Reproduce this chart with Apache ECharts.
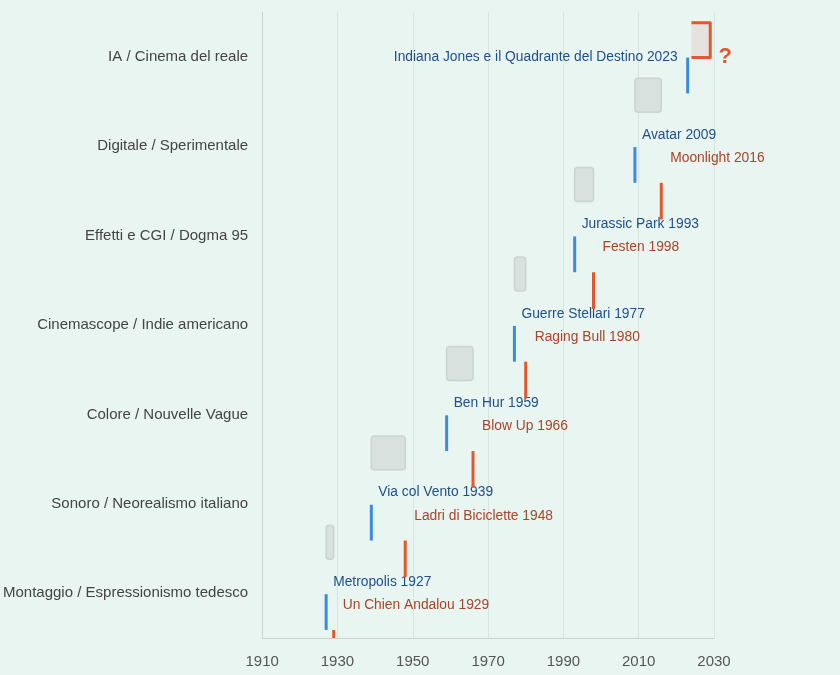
<!DOCTYPE html>
<html>
<head>
<meta charset="utf-8">
<script src="https://cdn.jsdelivr.net/npm/echarts@6/dist/echarts.min.js"></script>
<style>
  html, body { margin: 0; padding: 0; background: #e9f5f1; }
  #main { width: 840px; height: 675px; }
</style>
</head>
<body>
<div id="main"></div>
<script>
// categorie, dal basso verso l'alto
var categorie = ['Montaggio / Espressionismo tedesco', 'Sonoro / Neorealismo italiano', 'Colore / Nouvelle Vague',
  'Cinemascope / Indie americano', 'Effetti e CGI / Dogma 95', 'Digitale / Sperimentale', 'IA / Cinema del reale'];

// primo film (blu) e secondo film (rosso) per ogni epoca
var filmPrimo = ['Metropolis', 'Via col Vento', 'Ben Hur', 'Guerre Stellari', 'Jurassic Park', 'Avatar',
  'Indiana Jones e il Quadrante del Destino'];
var annoPrimo = [1927, 1939, 1959, 1977, 1993, 2009, 2023];
var filmSecondo = ['Un Chien Andalou', 'Ladri di Biciclette', 'Blow Up', 'Raging Bull', 'Festen', 'Moonlight', null];
var annoSecondo = [1929, 1948, 1966, 1980, 1998, 2016, null];

// periodo ignoto per l'ultima epoca
var futuro = [2024, 2029];

var anniAsse = [1910, 2030];

var font = "'Liberation Sans', Arial, sans-serif";
var BLU = '#3b8ce0', ROSSO = '#e0582c';

function clipRect(shape, cs) {
  return echarts.graphic.clipRectByRect(shape, {x: cs.x, y: cs.y, width: cs.width, height: cs.height});
}

var chart = echarts.init(document.getElementById('main'));

var datiBlu = [], datiRossi = [], datiGrigi = [];
for (var i = 0; i < categorie.length; i++) {
  datiBlu.push([annoPrimo[i], i]);
  if (annoSecondo[i] != null) {
    datiRossi.push([annoSecondo[i], i]);
    datiGrigi.push([annoPrimo[i], annoSecondo[i], i]);
  }
}

var option = {
  backgroundColor: '#e9f5f1',
  animation: false,
  grid: { left: 262, right: 126, top: 12, bottom: 37 },
  xAxis: {
    type: 'value',
    min: anniAsse[0],
    max: anniAsse[1],
    interval: 20,
    axisLine: { show: true, lineStyle: { color: '#c9d2cf' } },
    axisTick: { show: false },
    axisLabel: { color: '#555', fontSize: 15, fontFamily: font, margin: 16, formatter: function (v) { return String(v); } },
    splitLine: { show: true, lineStyle: { color: '#d9e3df' } }
  },
  yAxis: {
    type: 'category',
    data: categorie,
    axisLine: { show: true, lineStyle: { color: '#c9d2cf' } },
    axisTick: { show: false },
    axisLabel: { color: '#444', fontSize: 15, fontFamily: font, margin: 14 },
    splitLine: { show: false }
  },
  series: [{
    // transizioni grigie
    type: 'custom',
    data: datiGrigi,
    renderItem: function (params, api) {
      var a = api.coord([api.value(0), api.value(2)]);
      var b = api.coord([api.value(1), api.value(2)]);
      var band = api.size([0, 1])[1];
      var shape = clipRect({ x: a[0], y: a[1] - 0.76 * band, width: b[0] - a[0], height: 0.38 * band }, params.coordSys);
      if (!shape) return;
      return {
        type: 'rect',
        shape: { x: shape.x, y: shape.y, width: shape.width, height: shape.height, r: 3 },
        style: { fill: '#d8e1de', stroke: '#cbd4d1', lineWidth: 1.5 }
      };
    }
  }, {
    // primo film
    type: 'custom',
    data: datiBlu,
    renderItem: function (params, api) {
      var i = api.value(1);
      var p = api.coord([api.value(0), i]);
      var band = api.size([0, 1])[1];
      var shape = clipRect({ x: p[0] - 1.5, y: p[1] + 0.01 * band, width: 3, height: 0.4 * band }, params.coordSys);
      var ultimo = i === categorie.length - 1;
      var children = [];
      if (shape) children.push({ type: 'rect', shape: shape, style: { fill: BLU } });
      children.push({
        type: 'text',
        style: {
          text: filmPrimo[i] + ' ' + annoPrimo[i],
          x: ultimo ? p[0] - 10 : p[0] + 7,
          y: ultimo ? p[1] : p[1] - 0.125 * band,
          align: ultimo ? 'right' : 'left',
          verticalAlign: 'middle',
          fill: '#1f4f8a',
          font: '13.8px ' + font
        }
      });
      return { type: 'group', children: children };
    }
  }, {
    // secondo film
    type: 'custom',
    data: datiRossi,
    renderItem: function (params, api) {
      var i = api.value(1);
      var p = api.coord([api.value(0), i]);
      var band = api.size([0, 1])[1];
      var shape = clipRect({ x: p[0] - 1.5, y: p[1] + 0.41 * band, width: 3, height: 0.41 * band }, params.coordSys);
      var children = [];
      if (shape) children.push({ type: 'rect', shape: shape, style: { fill: ROSSO } });
      children.push({
        type: 'text',
        style: {
          text: filmSecondo[i] + ' ' + annoSecondo[i],
          x: p[0] + 9,
          y: p[1] + 0.135 * band,
          align: 'left',
          verticalAlign: 'middle',
          fill: '#a8442a',
          font: '13.8px ' + font
        }
      });
      return { type: 'group', children: children };
    }
  }, {
    // futuro ignoto
    type: 'custom',
    data: [[futuro[0], futuro[1], categorie.length - 1]],
    renderItem: function (params, api) {
      var a = api.coord([api.value(0), api.value(2)]);
      var b = api.coord([api.value(1), api.value(2)]);
      var band = api.size([0, 1])[1];
      var top = a[1] - 0.38 * band, bot = a[1] + 0.01 * band;
      return {
        type: 'group',
        children: [{
          type: 'rect',
          shape: { x: a[0], y: top, width: b[0] - a[0], height: bot - top },
          style: { fill: '#e6e3de' }
        }, {
          type: 'polyline',
          shape: { points: [[a[0], top], [b[0], top], [b[0], bot], [a[0], bot]] },
          style: { stroke: ROSSO, lineWidth: 3, fill: null, lineJoin: 'round' }
        }, {
          type: 'text',
          style: {
            text: '?', x: b[0] + 15, y: a[1],
            align: 'center', verticalAlign: 'middle',
            fill: ROSSO, font: 'bold 22px ' + font
          }
        }]
      };
    }
  }]
};

chart.setOption(option);
window.onresize = function () { chart.resize(); };
</script>
</body>
</html>
